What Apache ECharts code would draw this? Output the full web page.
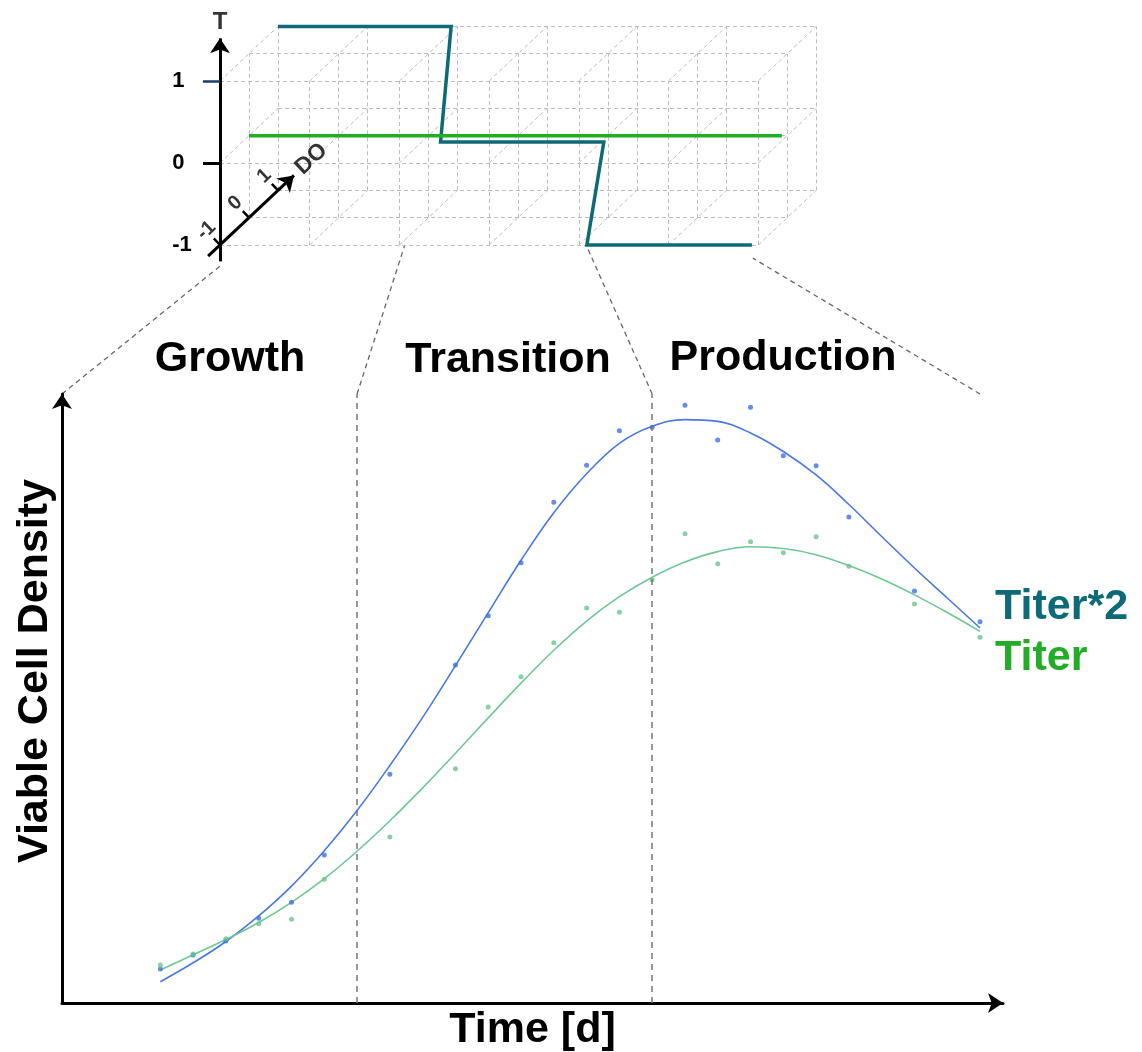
<!DOCTYPE html>
<html>
<head>
<meta charset="utf-8">
<title>Bioprocess phases</title>
<script src="https://cdn.jsdelivr.net/npm/echarts@6/dist/echarts.min.js"></script>
<style>
  html, body { margin: 0; padding: 0; background: #ffffff; }
  #chart { width: 1142px; height: 1052px; }
</style>
</head>
<body>
<div id="chart"></div>
<script>
// ---------------- culture data (days) ----------------
const fitDays = [0, 1, 2, 3, 4, 5, 6, 7, 8, 9, 10, 11, 12, 13, 14, 15, 16, 17, 18, 19, 20, 21, 22, 23, 24, 25];
const sampleDays = [0, 1, 2, 3, 4, 5, 7, 9, 10, 11, 12, 13, 14, 15, 16, 17, 18, 19, 20, 21, 23, 25];

// measured points
const titer2Samples = [5.58, 7.88, 10.18, 13.91, 16.54, 24.30, 37.55, 55.50, 63.60, 72.30, 82.22,
                       88.29, 93.97, 94.53, 98.14, 92.45, 97.82, 89.87, 88.23, 79.80, 67.65, 62.61];
const titerSamples  = [6.24, 8.05, 10.56, 13.02, 13.74, 20.31, 27.26, 38.47, 48.60, 53.58, 59.16,
                       64.86, 64.15, 69.51, 77.06, 72.13, 75.75, 73.94, 76.57, 71.71, 65.52, 60.05];

// fitted trends, one value per day
const titer2Fit = [3.50, 6.60, 10.10, 14.30, 19.20, 25.00, 31.60, 39.00, 46.90, 55.40, 64.10, 72.70, 80.50,
                   86.90, 91.90, 94.70, 95.80, 95.50, 93.60, 90.56, 86.70, 81.86, 76.60, 71.43, 66.50, 61.58];
const titerFit  = [5.42, 7.92, 10.42, 13.22, 16.52, 20.42, 24.92, 29.92, 35.32, 41.02, 46.82, 52.52, 57.92,
                   62.72, 66.72, 69.92, 72.42, 74.12, 74.92, 74.62, 73.62, 71.82, 69.62, 67.02, 64.12, 61.02];

// ---------------- phases ----------------
const phaseNames = ['Growth', 'Transition', 'Production'];
const phaseBounds = [-3, 6, 15, 25];          // days on the culture axis
const boxBoundsX = [0.02, 2.06, 4.09, 5.94];   // same boundaries on the set-point box (time units)
const boxBoundsT = [-1.24, -1, -1.02, -1.16];  // drop-off level of the connectors under the box

// ---------------- set-point box (x = time, T, DO) ----------------
const latticeX = [0, 1, 2, 3, 4, 5, 6];
const latticeT = [-1, 0, 1];
const latticeDO = [-1, 0, 1];
const tTicks = [-1, 0, 1];
const doTicks = [-1, 0, 1];
const tAxisRange = [-1.2, 1.52];
const doAxisRange = [-1.41, 1.55];

// temperature / DO profile that shifts with the phases
const shiftX  = [0, 1.93, 2.21, 4.03, 4.09, 5.93];
const shiftT  = [1, 1, 0, 0, -1, -1];
const shiftDO = [1, 1, -0.23, -0.23, -1, -1];
// constant profile
const constX  = [0, 5.94];
const constT  = [0, 0];
const constDO = [0, 0];

// oblique projection of the DO depth onto the (time, T) plane
const DEPTH_U = 0.3233;
const DEPTH_V = 0.3329;
function project(x, t, d) {
  return [x + DEPTH_U * (d + 1), t + DEPTH_V * (d + 1)];
}

const FONT = "'Liberation Sans', Arial, Helvetica, sans-serif";
const TEAL = '#0d6b78';
const GREEN = '#22ad26';
const BLUE_PT = '#3e6fe2';
const GREEN_PT = '#6cc48f';

// lattice segments of the dashed box
const lattice = [];
latticeDO.forEach(function (d) {
  latticeT.forEach(function (t) {
    lattice.push({ coords: [project(latticeX[0], t, d), project(latticeX[latticeX.length - 1], t, d)] });
  });
  latticeX.forEach(function (x) {
    lattice.push({ coords: [project(x, latticeT[0], d), project(x, latticeT[latticeT.length - 1], d)] });
  });
});
latticeX.forEach(function (x) {
  latticeT.forEach(function (t) {
    lattice.push({ coords: [project(x, t, latticeDO[0]), project(x, t, latticeDO[latticeDO.length - 1])] });
  });
});

const shiftPath = shiftX.map(function (x, i) { return project(x, shiftT[i], shiftDO[i]); });
const constPath = constX.map(function (x, i) { return project(x, constT[i], constDO[i]); });

// axis lines of the box
const axisLines = [
  { coords: [[0, tAxisRange[0]], [0, tAxisRange[1]]] },
  { coords: [project(0, -1, doAxisRange[0]), project(0, -1, doAxisRange[1])] }
];
// DO tick marks (perpendicular, towards the upper left)
const TICK_DU = -0.0688, TICK_DV = 0.080;
const doTickLines = doTicks.map(function (d) {
  const p = project(0, -1, d);
  return { coords: [p, [p[0] + TICK_DU, p[1] + TICK_DV]] };
});
// T tick at 1 (dark blue)
const tTickTop = { coords: [[-0.19, 1], [0, 1]] };

// labels inside the box coordinate system
const LABEL_DU = -0.153, LABEL_DV = 0.178;
const boxLabels = doTicks.map(function (d) {
  const p = project(0, -1, d);
  return { value: [p[0] + LABEL_DU, p[1] + LABEL_DV], name: String(d) };
});
const doNamePos = project(0, -1, 2.15);
boxLabels.push({ value: doNamePos, name: 'DO', label: { fontSize: 23 } });
boxLabels.push({ value: [0, 1.71], name: 'T', label: { rotate: 0, fontSize: 24 } });

const chart = echarts.init(document.getElementById('chart'), null, { renderer: 'canvas' });

const option = {
  backgroundColor: '#ffffff',
  animation: false,
  grid: [
    { left: 62, top: 394, width: 941, height: 609, outerBoundsMode: 'none' },
    { left: 175.15, top: 15.4, width: 672.75, height: 254.2, outerBoundsMode: 'none' }
  ],
  xAxis: [
    {
      gridIndex: 0, type: 'value', min: -3, max: 25.7,
      axisLine: { show: true, onZero: false, symbol: ['none', 'arrow'], symbolSize: [15, 15],
                  lineStyle: { color: '#000', width: 3 } },
      axisTick: { show: false }, axisLabel: { show: false }, splitLine: { show: false },
      name: 'Time [d]', nameLocation: 'middle', nameGap: 6,
      nameTextStyle: { fontSize: 43, fontWeight: 'bold', color: '#000', fontFamily: FONT, verticalAlign: 'top',
                       padding: [0, 0, 0, 0] }
    },
    {
      gridIndex: 1, type: 'value', min: -0.5, max: 7, show: false
    }
  ],
  yAxis: [
    {
      gridIndex: 0, type: 'value', min: 0, max: 100,
      axisLine: { show: true, onZero: false, symbol: ['none', 'arrow'], symbolSize: [15, 15],
                  lineStyle: { color: '#000', width: 3 } },
      axisTick: { show: false }, axisLabel: { show: false }, splitLine: { show: false },
      name: 'Viable Cell Density', nameLocation: 'middle', nameGap: 5,
      nameTextStyle: { fontSize: 43, fontWeight: 'bold', color: '#000', fontFamily: FONT,
                       padding: [0, 0, 0, 55] }
    },
    {
      gridIndex: 1, type: 'value', min: -1.3, max: 1.8,
      axisLine: { show: false, onZero: true },
      splitLine: { show: false },
      axisTick: { show: true, customValues: [0], length: 17, lineStyle: { color: '#000', width: 3 } },
      axisLabel: { show: true, customValues: tTicks, align: 'left', margin: 3,
                   fontSize: 22, fontWeight: 'bold', color: '#000', fontFamily: FONT }
    }
  ],
  series: [
    {
      type: 'lines', coordinateSystem: 'cartesian2d', xAxisIndex: 1, yAxisIndex: 1,
      silent: true, z: 1, data: lattice,
      lineStyle: { color: '#bdbdbd', width: 1, type: [4, 3], opacity: 1 }
    },
    {
      type: 'line', xAxisIndex: 1, yAxisIndex: 1, data: shiftPath, showSymbol: false, clip: false,
      silent: true, z: 3, lineStyle: { color: TEAL, width: 3.5, join: 'miter' }
    },
    {
      type: 'line', xAxisIndex: 1, yAxisIndex: 1, data: constPath, showSymbol: false, clip: false,
      silent: true, z: 4, lineStyle: { color: GREEN, width: 3.5 }
    },
    {
      type: 'lines', coordinateSystem: 'cartesian2d', xAxisIndex: 1, yAxisIndex: 1,
      silent: true, z: 5, data: axisLines, symbol: ['none', 'arrow'], symbolSize: [14, 15],
      lineStyle: { color: '#000', width: 3, opacity: 1 }
    },
    {
      type: 'lines', coordinateSystem: 'cartesian2d', xAxisIndex: 1, yAxisIndex: 1,
      silent: true, z: 5, data: doTickLines,
      lineStyle: { color: '#000', width: 2.5, opacity: 1 }
    },
    {
      type: 'lines', coordinateSystem: 'cartesian2d', xAxisIndex: 1, yAxisIndex: 1,
      silent: true, z: 5, data: [tTickTop],
      lineStyle: { color: '#1c3c6c', width: 2.5, opacity: 1 }
    },
    {
      type: 'scatter', xAxisIndex: 1, yAxisIndex: 1, data: boxLabels, symbolSize: 0, clip: false,
      silent: true, z: 6,
      label: { show: true, position: 'inside', formatter: '{b}', rotate: 43,
               fontSize: 20, fontWeight: 'bold', color: '#000', fontFamily: FONT }
    },
    {
      name: 'Titer*2 samples', type: 'scatter', xAxisIndex: 0, yAxisIndex: 0, symbolSize: 5,
      data: sampleDays.map(function (d, i) { return [d, titer2Samples[i]]; }),
      itemStyle: { color: BLUE_PT }, z: 4
    },
    {
      name: 'Titer samples', type: 'scatter', xAxisIndex: 0, yAxisIndex: 0, symbolSize: 5,
      data: sampleDays.map(function (d, i) { return [d, titerSamples[i]]; }),
      itemStyle: { color: GREEN_PT }, z: 4
    },
    {
      name: 'Titer*2', type: 'line', xAxisIndex: 0, yAxisIndex: 0, smooth: 0.4, showSymbol: false,
      data: fitDays.map(function (d, i) { return [d, titer2Fit[i]]; }),
      lineStyle: { color: '#4a78e3', width: 1.6 }, z: 3,
      markLine: {
        silent: true, symbol: ['none', 'none'], label: { show: false },
        lineStyle: { color: '#777', width: 1.5, type: [6, 5] },
        data: phaseBounds.slice(1, 3).map(function (d) { return { xAxis: d }; })
      }
    },
    {
      name: 'Titer', type: 'line', xAxisIndex: 0, yAxisIndex: 0, smooth: 0.4, showSymbol: false,
      data: fitDays.map(function (d, i) { return [d, titerFit[i]]; }),
      lineStyle: { color: '#70c795', width: 1.6 }, z: 3
    }
  ]
};

chart.setOption(option);

// phase titles and trend labels
const phaseTextPos = [[230, 359], [508, 360], [783, 358]];
const texts = phaseNames.map(function (name, i) {
  return {
    type: 'text', x: phaseTextPos[i][0], y: phaseTextPos[i][1], silent: true,
    style: { text: name, font: 'bold 43px ' + FONT, fill: '#000', align: 'center', verticalAlign: 'middle' }
  };
});
texts.push({ type: 'text', x: 995, y: 607, silent: true,
  style: { text: 'Titer*2', font: 'bold 43px ' + FONT, fill: TEAL, align: 'left', verticalAlign: 'middle' } });
texts.push({ type: 'text', x: 995, y: 658, silent: true,
  style: { text: 'Titer', font: 'bold 43px ' + FONT, fill: GREEN, align: 'left', verticalAlign: 'middle' } });

// dashed connectors from the box down to the culture phases
const connectors = phaseBounds.map(function (d, i) {
  const a = chart.convertToPixel({ gridIndex: 0 }, [d, 100]);
  const b = chart.convertToPixel({ gridIndex: 1 }, [boxBoundsX[i], boxBoundsT[i]]);
  return {
    type: 'line', silent: true,
    shape: { x1: a[0], y1: a[1], x2: b[0], y2: b[1] },
    style: { stroke: '#666', lineWidth: 1.3, lineDash: [5, 4] }
  };
});

chart.setOption({ graphic: texts.concat(connectors) });
</script>
</body>
</html>
